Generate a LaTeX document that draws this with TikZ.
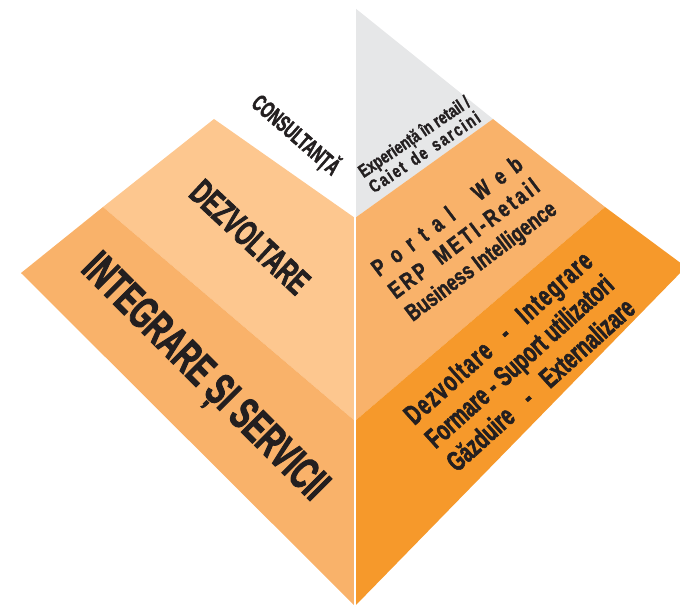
\documentclass[tikz,border=0pt]{standalone}
\usepackage{fontspec}
\setmainfont{Liberation Sans}
\newfontfamily\narrow{Liberation Sans}[FakeStretch=0.62, FakeBold=2]
\newfontfamily\midnarrow{Liberation Sans}[FakeStretch=0.67, FakeBold=2]
\newfontfamily\semi{Liberation Sans}[FakeStretch=0.75, FakeBold=1.5]
\usepackage{tikz}
\usetikzlibrary{shapes,arrows,positioning}

\definecolor{palegrey}{HTML}{E6E7E8}
\definecolor{lightorange}{HTML}{FDC78F}
\definecolor{midorange}{HTML}{F9B26A}
\definecolor{deeporange}{HTML}{F6992B}
\definecolor{inkdark}{HTML}{231F20}

\begin{document}
\begin{tikzpicture}[x=0.75pt, y=-0.75pt,
		caps/.style={text=inkdark, inner sep=0pt, font=\narrow\bfseries\fontsize{#1}{#1}\selectfont},
		block/.style n args={3}{text=inkdark, inner sep=0pt, align=center, font=#1\bfseries\fontsize{#2}{#3}\selectfont}]
				\useasboundingbox (0,0) rectangle (680,606);
				\clip (0,0) rectangle (680,606);

				\coordinate (top) at (355,8);
				\coordinate (bot) at (355,606);
				\coordinate (c1) at (355,218);
				\coordinate (c2) at (355,421);
				\coordinate (l1) at (214,119);
				\coordinate (l2) at (103,207);
				\coordinate (l3) at (21,273);
				\coordinate (r1) at (493,119);
				\coordinate (r2) at (605,207);
				\coordinate (r3) at (686,267);

				\fill [palegrey] (top) -- (r1) -- (c1) -- cycle;
				\fill [lightorange] (l1) -- (c1) -- (c2) -- (l2) -- cycle;
				\fill [midorange] (l2) -- (c2) -- (bot) -- (l3) -- cycle;
				\fill [midorange] (r1) -- (r2) -- (c2) -- (c1) -- cycle;
				\fill [deeporange] (r2) -- (r3) -- (bot) -- (c2) -- cycle;
				\draw [white, line width=1.2pt] (top) -- (bot);

				\node [caps=17.5, rotate=-41] (consult) at (296,135) {CONSULTANȚĂ};
				\node [caps=27, rotate=-43] (dezv) at (250,237) {DEZVOLTARE};
				\node [caps=34, rotate=-45] (integr) at (203,379) {INTEGRARE ȘI SERVICII};

				\node [block={\semi}{13.7}{14}, rotate=34] (exper) at (419,144)
					{\makebox[97.5pt][s]{Experiență în retail /}\\
					 \makebox[97.5pt][s]{\addfontfeature{LetterSpace=10}Caiet de sarcini}};
				\node [block={\semi}{17.8}{21}, rotate=37] (portal) at (465,240)
					{\makebox[136.5pt][s]{P\hfill o\hfill r\hfill t\hfill a\hfill l\hfill\hfill\hfill W\hfill e\hfill b}\\
					 \makebox[136.5pt][s]{\addfontfeature{LetterSpace=12}ERP METI-Retail}\\
					 \makebox[136.5pt][s]{Business Intelligence}};
				\node [block={\midnarrow}{21}{23.8}, rotate=42] (servicii) at (519,361)
					{\makebox[181.5pt][s]{\addfontfeature{LetterSpace=5}Dezvoltare - Integrare}\\
					 \makebox[181.5pt][s]{Formare - Suport utilizatori}\\
					 \makebox[181.5pt][s]{Găzduire - Externalizare}};

				\end{tikzpicture}
\end{document}
